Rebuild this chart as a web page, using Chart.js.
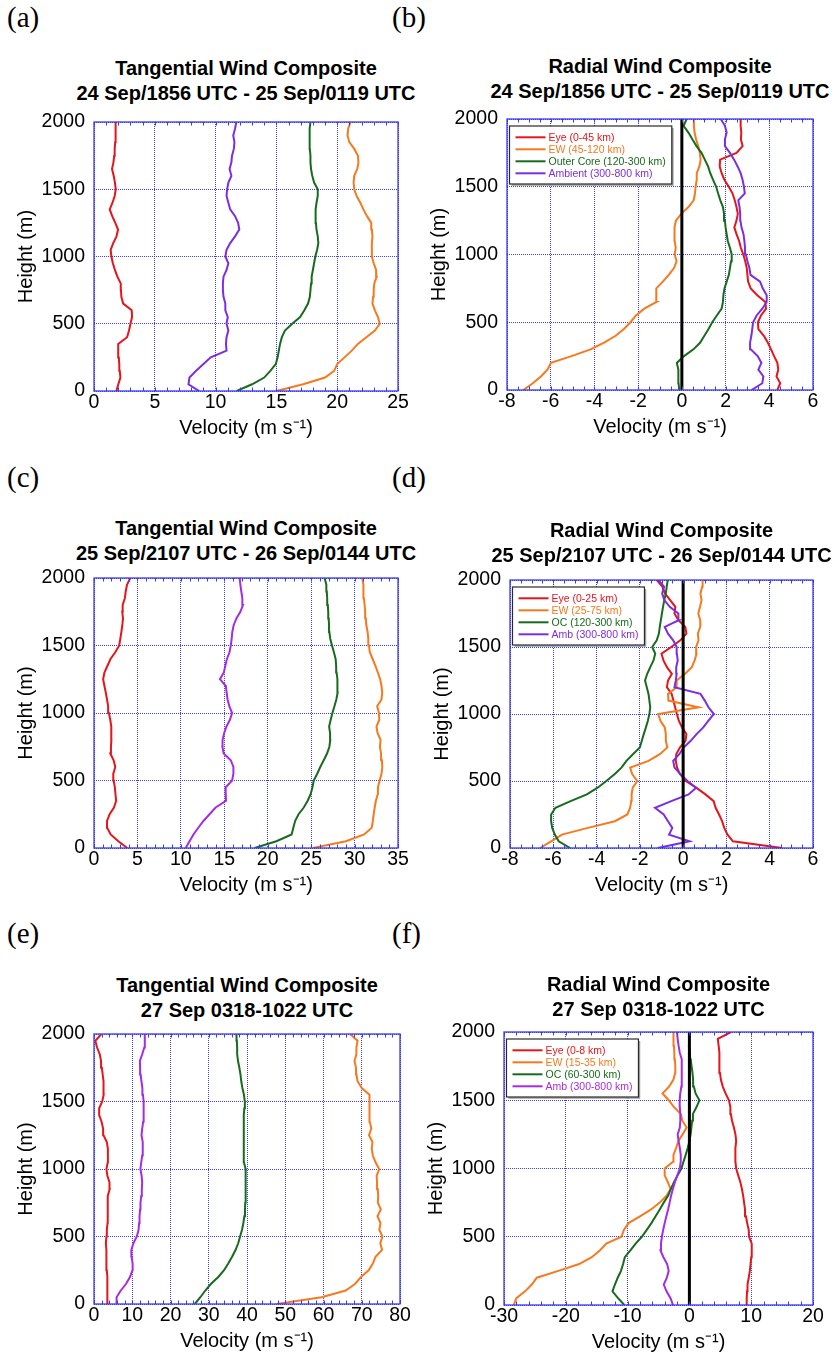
<!DOCTYPE html>
<html><head><meta charset="utf-8">
<script src="https://cdn.jsdelivr.net/npm/chart.js@4.4.1/dist/chart.umd.min.js"></script>
<style>
html,body{margin:0;padding:0;background:#fff;}
body{width:835px;height:1356px;position:relative;overflow:hidden;font-family:"Liberation Sans",Arial,sans-serif;}
.ttl{position:absolute;width:560px;text-align:center;font-weight:bold;font-size:20px;line-height:25px;color:#000;white-space:nowrap;}
.lab{position:absolute;font-family:"Liberation Serif","Times New Roman",serif;font-size:29px;line-height:29px;color:#000;}
canvas{position:absolute;}
</style></head><body>
<script>
// ---------------- data ----------------
const HEIGHTS = [0,50,100,150,200,250,300,350,400,450,500,550,600,650,700,750,800,850,900,950,1000,1050,1100,1150,1200,1250,1300,1350,1400,1450,1500,1550,1600,1650,1700,1750,1800,1850,1900,1950,2000];
const ZERO_X = [0,0];
const ZERO_Y = [0,2000];

// (a) tangential 24 Sep/1856 - 25 Sep/0119
const A_EYE = [1.84,2.0,2.17,2.12,2.08,2.04,2.0,1.98,2.72,2.88, 3.0,3.13,3.1,2.4,2.25,2.22,2.2,1.92,1.72,1.55, 1.43,1.37,1.58,1.85,1.98,1.75,1.5,1.29,1.52,1.7, 1.79,1.72,1.62,1.48,1.6,1.66,1.7,1.74,1.79,1.78, 1.76];
const A_EW  = [15.0,17.2,19.0,19.75,20.0,20.6,21.2,21.7,22.4,23.1, 23.5,23.35,23.1,22.9,22.95,23.0,23.05,23.25,23.2,23.0, 22.85,22.85,22.85,22.9,22.85,22.8,22.45,22.15,21.9,21.6, 21.4,21.35,21.4,21.65,21.75,21.7,21.4,21.0,20.85,20.9, 21.1];
const A_OC  = [11.73,13.0,14.0,14.5,14.95,15.1,15.2,15.3,15.45,15.7, 16.3,16.95,17.3,17.6,17.75,17.8,17.85,17.9,18.0,18.1, 18.2,18.35,18.45,18.4,18.3,18.25,18.2,18.25,18.3,18.4, 18.4,18.1,17.95,17.85,17.8,17.8,17.75,17.75,17.75,17.7, 17.8];
const A_AMB = [8.65,7.77,7.85,8.4,9.0,9.6,10.9,10.85,10.9,11.05, 10.9,11.0,10.8,10.8,10.65,10.6,10.6,10.65,10.9,11.05, 10.8,10.9,11.2,11.6,11.95,11.85,11.6,11.2,11.05,10.9, 10.95,11.05,11.3,11.15,11.3,11.35,11.5,11.55,11.45,11.6, 11.7];

// (b) radial 24 Sep/1856 - 25 Sep/0119
const B_EYE = [4.37,4.5,4.33,4.41,4.37,4.22,4.08,3.93,3.75,3.5, 3.48,3.62,3.85,3.82,3.45,3.15,3.03,3.0,2.97,2.9, 2.81,2.7,2.62,2.5,2.4,2.5,2.56,2.5,2.42,2.32, 2.15,1.95,1.82,1.73,1.75,2.5,2.78,2.7,2.72,2.69, 2.69];
const B_EW  = [-7.25,-6.82,-6.45,-6.15,-5.99,-5.05,-4.18,-3.56,-3.03,-2.65, -2.35,-2.1,-1.72,-1.16,-1.18,-1.16,-0.87,-0.6,-0.36,-0.24, -0.33,-0.28,-0.33,-0.35,-0.32,-0.27,-0.03,0.3,0.54,0.6, 0.63,0.68,0.68,0.8,0.86,0.82,0.75,0.65,0.58,0.55, 0.55];
const B_OC  = [-0.12,-0.15,-0.16,-0.16,-0.23,0.1,0.53,0.84,1.03,1.22, 1.39,1.6,1.82,1.88,1.9,1.95,2.05,2.15,2.2,2.25, 2.28,2.2,2.1,2.05,2.0,1.97,1.93,1.88,1.76,1.66, 1.57,1.43,1.3,1.2,1.05,0.9,0.67,0.48,0.3,0.08, 0.22];
const B_AMB = [3.19,3.68,3.73,3.5,3.64,3.47,3.15,3.12,3.18,3.22, 3.26,3.42,3.68,3.88,3.88,3.7,3.58,3.14,3.09,3.0, 2.93,2.89,2.86,2.82,2.73,2.68,2.67,2.64,2.58,2.88, 2.84,2.78,2.69,2.55,2.39,2.2,1.97,1.97,2.05,1.97, 1.78];

// (c) tangential 25 Sep/2107 - 26 Sep/0144
const C_EYE = [3.84,2.8,1.92,1.52,1.5,1.8,2.3,2.55,2.47,2.4, 2.26,2.22,2.45,2.26,1.88,1.95,2.0,2.0,1.98,1.87, 1.72,1.63,1.5,1.36,1.2,1.05,1.2,1.55,1.9,2.45, 2.9,3.03,3.15,3.26,3.34,3.25,3.3,3.55,3.65,3.8, 4.18];
const C_EW  = [25.21,29.0,31.1,31.98,32.1,32.2,32.32,32.45,32.68,32.69, 32.89,33.1,33.19,33.15,33.05,32.92,33.0,32.65,32.52,32.85, 32.8,32.6,33.1,33.18,33.1,32.95,32.68,32.4,32.08,31.75, 31.66,31.58,31.5,31.35,31.3,31.22,31.16,31.07,31.04,31.0, 30.89];
const C_OC  = [18.5,21.0,22.75,22.95,23.15,23.55,24.15,24.6,24.95,25.15, 25.3,25.7,26.05,26.45,26.83,27.1,27.2,27.18,27.07,27.25, 27.45,27.68,27.9,28.05,28.07,27.98,27.93,27.88,27.82,27.62, 27.4,27.2,27.1,27.06,27.02,26.97,26.92,26.85,26.8,26.75, 26.55];
const C_AMB = [10.55,11.0,11.45,12.0,12.6,13.3,14.0,15.2,15.17,15.16, 15.9,16.05,16.05,15.75,14.93,14.78,14.8,14.98,15.25,15.65, 15.9,15.58,15.38,15.27,15.18,14.5,14.95,15.12,15.3,15.6, 15.75,15.85,15.92,16.08,16.39,16.85,17.15,17.08,16.96,16.85, 16.77];

// (d) radial 25 Sep/2107 - 26 Sep/0144
const D_EYE = [4.57,2.3,2.05,1.9,1.8,1.66,1.5,1.41,1.03,0.6, 0.12,-0.14,-0.28,-0.34,-0.32,-0.15,0.11,0.15,-0.05,-0.2, -0.29,-0.37,-0.45,-0.53,-0.75,-0.7,-0.52,-0.75,-0.91,-1.0, -0.55,-0.13,0.15,0.1,-0.22,-0.4,-0.36,-0.6,-0.84,-0.96, -1.22];
const D_EW  = [-6.61,-6.1,-5.6,-4.4,-3.15,-2.58,-2.45,-2.4,-2.38,-2.33, -2.12,-2.35,-2.45,-1.6,-1.08,-0.73,-0.8,-0.8,-0.85,-1.05, -1.15,0.71,-0.68,-0.7,-0.3,-0.3,0.09,0.4,0.53,0.62, 0.6,0.71,0.68,0.79,0.79,0.7,0.78,0.85,0.8,0.88, 0.9];
const D_OC  = [-5.22,-5.75,-5.93,-6.05,-6.1,-6.1,-5.9,-5.2,-4.45,-3.95, -3.55,-3.17,-2.85,-2.62,-2.32,-2.0,-1.91,-1.82,-1.72,-1.63, -1.56,-1.52,-1.56,-1.6,-1.68,-1.76,-1.66,-1.52,-1.37,-1.29, -1.43,-1.22,-1.12,-1.08,-1.03,-0.98,-0.93,-0.87,-0.8,-0.76, -0.71];
const D_AMB = [-1.17,0.3,-0.65,-0.5,-0.7,-0.9,-1.3,-0.55,0.25,0.6, 0.2,-0.12,-0.4,-0.46,-0.18,0.03,0.35,0.62,0.93,1.17, 1.42,1.17,1.0,0.8,-0.4,-0.34,-0.3,-0.32,-0.25,-0.29, -0.3,-0.46,-0.7,-0.85,-0.2,-0.22,-0.62,-0.87,-0.97,-0.88, -1.14];

// (e) tangential 27 Sep 0318-1022
const E_EYE = [3.66,3.66,3.5,3.4,3.4,3.35,3.27,3.23,3.23,3.1, 3.25,3.35,3.55,3.66,3.66,3.5,3.55,4.1,4.05,3.5, 3.25,3.6,3.66,3.6,3.35,2.5,2.38,1.98,1.35,1.35, 2.15,2.53,2.53,2.45,2.27,2.05,1.85,1.5,0.8,0.35, 1.92];
const E_EW  = [47.73,59.5,65.8,68.3,69.8,71.8,72.9,73.6,75.3,74.85, 75.4,74.6,74.9,74.1,75.0,74.2,74.3,74.2,74.0,73.9, 74.55,73.6,72.9,72.6,72.8,71.9,72.5,72.1,72.1,72.1, 72.0,71.9,70.0,68.9,68.6,68.5,68.1,68.6,68.6,68.9, 66.93];
const E_OC  = [26.35,27.8,29.1,30.6,32.5,34.0,35.1,36.1,37.0,37.7, 38.2,38.7,39.05,39.3,39.47,39.55,39.6,39.65,39.7,39.68, 39.6,39.2,39.15,39.15,39.15,39.15,39.15,39.15,39.2,39.3, 39.44,39.2,38.8,38.5,38.3,38.0,37.65,37.43,37.43,37.35, 37.26];
const E_AMB = [5.85,5.9,7.0,8.4,9.4,10.05,10.1,9.85,9.77,10.3, 11.2,11.65,11.8,11.9,12.05,12.15,12.35,12.5,12.6,12.45, 12.13,12.35,12.6,12.8,12.68,12.42,12.6,12.85,12.95,13.0, 12.98,12.8,12.65,12.4,12.2,12.05,12.0,12.6,13.15,13.26, 13.3];

// (f) radial 27 Sep 0318-1022
const F_EYE = [9.21,9.27,9.33,9.4,9.6,9.78,9.9,10.0,10.12,10.05, 9.65,9.6,9.35,9.15,9.0,8.85,8.7,8.5,8.25,7.9, 7.57,7.45,7.43,7.45,7.57,7.45,7.2,6.9,6.7,6.63, 6.4,5.85,5.4,5.1,4.95,4.9,4.86,4.8,4.73,4.6, 6.73];
const F_EW  = [-28.44,-28.0,-26.6,-25.5,-24.7,-21.2,-17.85,-15.8,-14.5,-13.45, -11.0,-10.6,-9.85,-8.0,-6.2,-4.8,-3.7,-3.05,-3.5,-4.0, -4.0,-2.65,-2.58,-2.15,-1.8,-1.1,-0.45,-1.15,-1.4,-2.5, -3.35,-4.35,-3.3,-2.6,-2.3,-2.28,-2.35,-2.44,-2.5,-2.6, -2.55];
const F_OC  = [-10.53,-11.55,-12.45,-12.05,-11.6,-11.07,-10.73,-10.45,-9.55,-8.7, -7.7,-6.9,-6.15,-5.47,-4.8,-4.16,-3.45,-3.0,-2.5,-1.9, -1.3,-0.95,-0.6,-0.27,0.0,0.2,0.32,0.45,0.57,1.15, 1.62,1.0,0.72,0.6,0.5,0.35,0.22,0.1,-0.11,null, null];
const F_AMB = [-2.65,-3.05,-3.7,-4.15,-3.65,-3.35,-3.6,-4.2,-4.68,-4.6, -4.45,-4.25,-4.0,-3.73,-3.45,-3.2,-2.97,-2.67,-2.35,-1.95, -1.55,-1.4,-1.4,-1.55,-1.74,-1.9,-1.55,-1.47,-1.47,-1.55, -1.57,-1.48,-1.3,-1.2,-1.2,-1.2,-1.35,-1.57,-1.75,-1.9, -2.01];

// labels
const LABELS_A = ['Eye (0-45 km)','EW (45-120 km)','Outer Core (120-300 km)','Ambient (300-800 km)'];
const LABELS_B = ['Eye (0-45 km)','EW (45-120 km)','Outer Core (120-300 km)','Ambient (300-800 km)'];
const LABELS_C = ['Eye (0-25 km)','EW (25-75 km)','OC (120-300 km)','Amb (300-800 km)'];
const LABELS_D = ['Eye (0-25 km)','EW (25-75 km)','OC (120-300 km)','Amb (300-800 km)'];
const LABELS_E = ['Eye (0-8 km)','EW (15-35 km)','OC (60-300 km)','Amb (300-800 km)'];
const LABELS_F = ['Eye (0-8 km)','EW (15-35 km)','OC (60-300 km)','Amb (300-800 km)'];

const TITLES_A = ['Tangential Wind Composite','24 Sep/1856 UTC - 25 Sep/0119 UTC'];
const TITLES_B = ['Radial Wind Composite','24 Sep/1856 UTC - 25 Sep/0119 UTC'];
const TITLES_C = ['Tangential Wind Composite','25 Sep/2107 UTC - 26 Sep/0144 UTC'];
const TITLES_D = ['Radial Wind Composite','25 Sep/2107 UTC - 26 Sep/0144 UTC'];
const TITLES_E = ['Tangential Wind Composite','27 Sep 0318-1022 UTC'];
const TITLES_F = ['Radial Wind Composite','27 Sep 0318-1022 UTC'];

const X_TITLE = 'Velocity (m s\u207B\u00B9)';
const Y_TITLE = 'Height (m)';

// ---------------- styling / layout ----------------
const FONT = '"Liberation Sans", Arial, Helvetica, sans-serif';
const FRAME = '#3a3af2';
const GRID = 'rgba(40,40,235,0.9)';
const C_RED = '#e3161b', C_ORG = '#f57a1f', C_GRN = '#196a1e', C_VIO = '#7b2ee0', C_MAG = '#a42ce3';

const PANELS = [
  {tag:'(a)', lx:7, ly:2.8, titles:TITLES_A, tTop:55.6, l:94,t:122,r:398,b:391,sL:14,xB:440, xmin:0,xmax:25,step:5,minor:1, series:[A_EYE,A_EW,A_OC,A_AMB], labels:LABELS_A, amb:C_VIO, legend:false, zero:false},
  {tag:'(b)', lx:392, ly:2.8, titles:TITLES_B, tTop:54.1, l:507,t:119,r:813,b:390,sL:427,xB:439, xmin:-8,xmax:6,step:2,minor:0.5, series:[B_EYE,B_EW,B_OC,B_AMB], labels:LABELS_B, amb:C_VIO, legend:true, zero:true},
  {tag:'(c)', lx:7, ly:462.8, titles:TITLES_C, tTop:515.6, l:94,t:578,r:398,b:848,sL:14,xB:897, xmin:0,xmax:35,step:5,minor:1, series:[C_EYE,C_EW,C_OC,C_AMB], labels:LABELS_C, amb:C_MAG, legend:false, zero:false},
  {tag:'(d)', lx:392, ly:462.8, titles:TITLES_D, tTop:517.9, l:510,t:580,r:813,b:848,sL:430,xB:897, xmin:-8,xmax:6,step:2,minor:0.5, series:[D_EYE,D_EW,D_OC,D_AMB], labels:LABELS_D, amb:C_VIO, legend:true, zero:true},
  {tag:'(e)', lx:7, ly:918.5, titles:TITLES_E, tTop:972.9, l:94,t:1034,r:400,b:1304,sL:14,xB:1353, xmin:0,xmax:80,step:10,minor:2, series:[E_EYE,E_EW,E_OC,E_AMB], labels:LABELS_E, amb:C_MAG, legend:false, zero:false},
  {tag:'(f)', lx:392, ly:918.5, titles:TITLES_F, tTop:972.3, l:504,t:1032,r:813,b:1305,sL:424,xB:1354, xmin:-30,xmax:20,step:10,minor:2, series:[F_EYE,F_EW,F_OC,F_AMB], labels:LABELS_F, amb:C_MAG, legend:true, zero:true}
];

function toPoints(vals){
  const out = [];
  vals.forEach((v,i)=>{ if (v !== null) out.push({x:v, y:HEIGHTS[i]}); });
  return out;
}

const decor = {
  id:'decor',
  afterDraw(chart, args, o){
    const ctx = chart.ctx, a = chart.chartArea, x = chart.scales.x;
    ctx.save();
    // minor ticks (top and bottom, inward)
    ctx.strokeStyle = FRAME; ctx.lineWidth = 1;
    ctx.beginPath();
    const n = Math.round((x.max - x.min) / o.minor);
    for (let k = 0; k <= n; k++) {
      const px = Math.round(x.getPixelForValue(x.min + k * o.minor)) + 0.5;
      ctx.moveTo(px, a.top); ctx.lineTo(px, a.top + 3.5);
      ctx.moveTo(px, a.bottom); ctx.lineTo(px, a.bottom - 3.5);
    }
    ctx.stroke();
    // frame
    ctx.lineWidth = 1.3;
    ctx.strokeRect(a.left, a.top, a.right - a.left, a.bottom - a.top);
    // legend
    if (o.legend) {
      const ds = chart.data.datasets.filter(d => !d.isZero);
      ctx.font = '10.5px ' + FONT;
      const tw = Math.max(...ds.map(d => ctx.measureText(d.label).width));
      const bx = a.left + 2.5, by = a.top + 7, bw = 39 + tw + 6, bh = 58;
      ctx.fillStyle = '#fff'; ctx.fillRect(bx, by, bw, bh);
      ctx.strokeStyle = '#a0a0a0'; ctx.lineWidth = 1.6;
      ctx.beginPath(); ctx.moveTo(bx + bw + 1, by + 2); ctx.lineTo(bx + bw + 1, by + bh + 1); ctx.lineTo(bx + 2, by + bh + 1); ctx.stroke();
      ctx.strokeStyle = '#2a2a2a'; ctx.lineWidth = 1.2; ctx.strokeRect(bx, by, bw, bh);
      ctx.textBaseline = 'middle'; ctx.textAlign = 'left';
      ds.forEach((d, i) => {
        const yy = by + 11.3 + i * 12;
        ctx.strokeStyle = d.borderColor; ctx.lineWidth = 2;
        ctx.beginPath(); ctx.moveTo(bx + 6, yy); ctx.lineTo(bx + 36, yy); ctx.stroke();
        ctx.fillStyle = d.borderColor; ctx.fillText(d.label, bx + 39, yy + 0.5);
      });
    }
    ctx.restore();
  }
};

Chart.defaults.font.family = FONT;
Chart.defaults.color = '#000';

PANELS.forEach(P => {
  // panel letter
  const lab = document.createElement('div');
  lab.className = 'lab'; lab.textContent = P.tag;
  lab.style.left = P.lx + 'px'; lab.style.top = P.ly + 'px';
  document.body.appendChild(lab);
  // title
  const tt = document.createElement('div');
  tt.className = 'ttl';
  tt.innerHTML = P.titles.map(s => '<div>' + s + '</div>').join('');
  tt.style.left = ((P.l + P.r) / 2 - 280) + 'px'; tt.style.top = P.tTop + 'px';
  document.body.appendChild(tt);
  // canvas
  const padTop = 16, padRight = 14;
  const cL = P.sL, cT = P.t - padTop, cW = P.r + padRight - P.sL, cH = P.xB - cT;
  const cv = document.createElement('canvas');
  cv.width = cW; cv.height = cH;
  cv.style.left = cL + 'px'; cv.style.top = cT + 'px';
  cv.style.width = cW + 'px'; cv.style.height = cH + 'px';
  document.body.appendChild(cv);

  const colors = [C_RED, C_ORG, C_GRN, P.amb];
  const datasets = P.series.map((s, i) => ({
    label: P.labels[i], data: toPoints(s), borderColor: colors[i], backgroundColor: colors[i],
    borderWidth: 2, pointRadius: 0, showLine: true, tension: 0, order: 4 - i
  }));
  if (P.zero) {
    datasets.push({label:'zero', isZero:true, data: ZERO_X.map((v,i)=>({x:v, y:ZERO_Y[i]})),
      borderColor:'#000', backgroundColor:'#000', borderWidth:3, pointRadius:0, showLine:true, order:-1});
  }

  new Chart(cv, {
    type: 'scatter',
    data: { datasets },
    options: {
      responsive: false, animation: false, devicePixelRatio: 1,
      layout: { padding: { left: 0, top: padTop, right: padRight, bottom: 0 } },
      plugins: {
        legend: { display: false }, title: { display: false }, tooltip: { enabled: false },
        decor: { minor: P.minor, legend: P.legend }
      },
      scales: {
        x: {
          type: 'linear', position: 'bottom', min: P.xmin, max: P.xmax,
          ticks: { stepSize: P.step, color: '#000', font: { size: 19.5 }, padding: 0, maxRotation: 0, autoSkip: false, callback: v => String(v) },
          grid: { color: GRID, lineWidth: 1, drawTicks: false },
          border: { display: false, dash: [1, 1] },
          title: { display: true, text: X_TITLE, color: '#000', font: { size: 20 }, padding: 0 },
          afterFit(s) { s.height = P.xB - P.b; s.paddingLeft = 0; s.paddingRight = 0; }
        },
        y: {
          type: 'linear', position: 'left', min: 0, max: 2000,
          ticks: { stepSize: 500, color: '#000', font: { size: 19.5 }, padding: 9, callback: v => String(v) },
          grid: { color: GRID, lineWidth: 1, drawTicks: false },
          border: { display: false, dash: [1, 1] },
          title: { display: true, text: Y_TITLE, color: '#000', font: { size: 20 }, padding: 0 },
          afterFit(s) { s.width = P.l - P.sL; s.paddingTop = 0; s.paddingBottom = 0; }
        }
      }
    },
    plugins: [decor]
  });
});
</script>
</body></html>
